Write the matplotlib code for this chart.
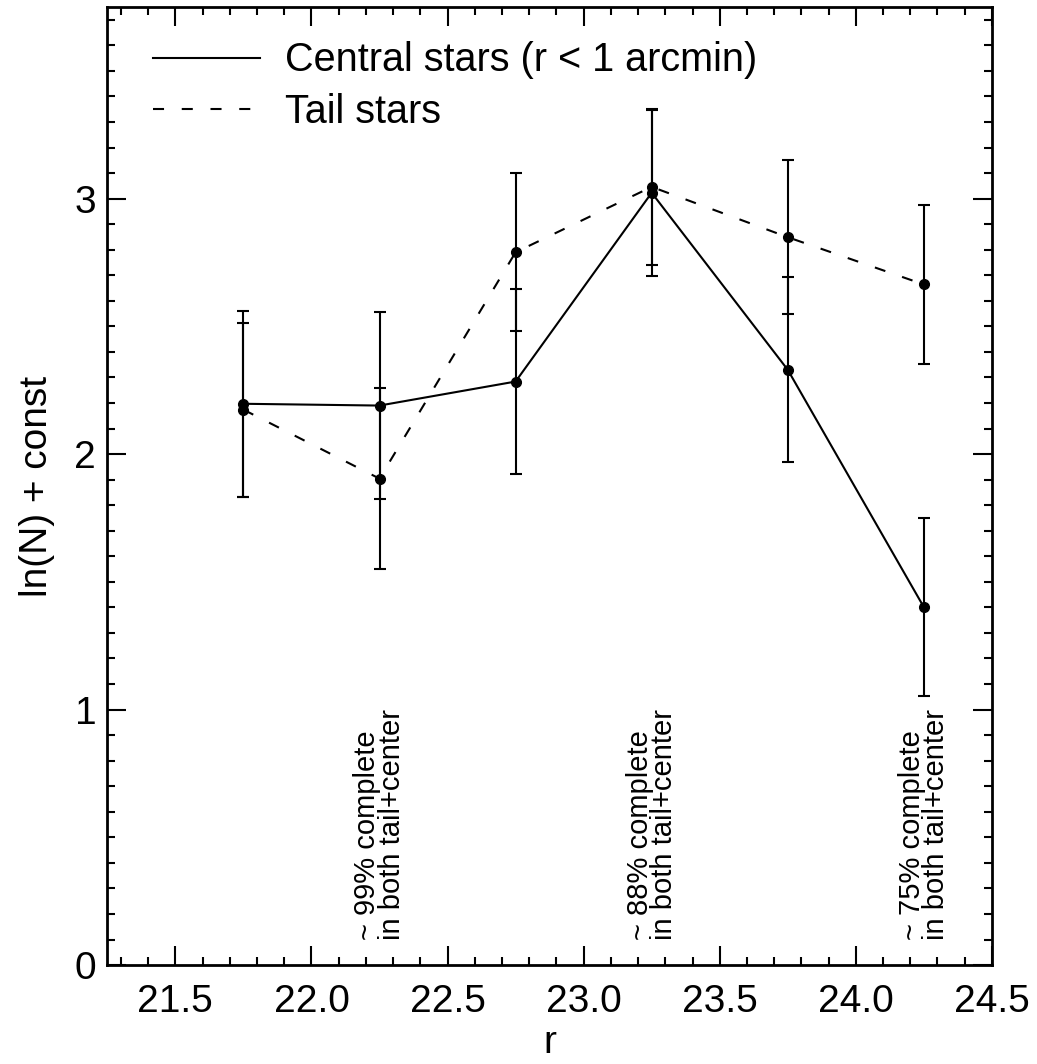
import numpy as np
import matplotlib
matplotlib.use("Agg")
import matplotlib.pyplot as plt
from matplotlib.lines import Line2D
from matplotlib.ticker import MultipleLocator, FormatStrFormatter

plt.rcParams['font.family'] = ['Liberation Sans', 'DejaVu Sans']

# magnitude bins
r_bins = [21.75, 22.25, 22.75, 23.25, 23.75, 24.25]

# central stars (r < 1 arcmin)
central_val = [2.197, 2.190, 2.284, 3.023, 2.330, 1.401]
central_err = [0.365, 0.365, 0.362, 0.325, 0.362, 0.348]

# tail stars
tail_val = [2.174, 1.904, 2.790, 3.046, 2.849, 2.664]
tail_err = [0.340, 0.355, 0.310, 0.305, 0.301, 0.312]

# completeness notes
note_x = [22.25, 23.25, 24.25]
note_text = ["~ 99% complete\nin both tail+center",
             "~ 88% complete\nin both tail+center",
             "~ 75% complete\nin both tail+center"]

fig = plt.figure(figsize=(10.37, 10.64), dpi=100)
ax = fig.add_axes([0.1035, 0.093, 0.853, 0.9004])

lw = 1.5
dash = (0, (5.3, 8.5))
ax.errorbar(r_bins, central_val, yerr=central_err, color='black', lw=lw,
            marker='o', ms=7, capsize=4.5, capthick=lw, elinewidth=lw)
ax.errorbar(r_bins, tail_val, yerr=tail_err, color='black', lw=lw,
            ls=dash, marker='o', ms=7, capsize=4.5, capthick=lw,
            elinewidth=lw)

for x, txt in zip(note_x, note_text):
    ax.text(x, 0.1, txt, rotation=90, ha='center', va='bottom',
            multialignment='left', fontsize=21, linespacing=0.82)

ax.set_xlim(21.25, 24.5)
ax.set_ylim(0, 3.75)
ax.xaxis.set_major_locator(MultipleLocator(0.5))
ax.xaxis.set_minor_locator(MultipleLocator(0.1))
ax.xaxis.set_major_formatter(FormatStrFormatter('%.1f'))
ax.yaxis.set_major_locator(MultipleLocator(1))
ax.yaxis.set_minor_locator(MultipleLocator(0.1))

ax.tick_params(which='both', direction='in', top=True, right=True,
               width=1.5, labelsize=28)
ax.tick_params(which='major', length=13.5)
ax.tick_params(which='minor', length=6)
ax.tick_params(axis='x', pad=14)
ax.tick_params(axis='y', pad=8)
for s in ax.spines.values():
    s.set_linewidth(2)

ax.set_xlabel('r', fontsize=28, labelpad=3)
ax.set_ylabel('ln(N) + const', fontsize=28, labelpad=14)

handles = [Line2D([], [], color='black', lw=lw),
           Line2D([], [], color='black', lw=lw, ls=dash)]
labels = ['Central stars (r < 1 arcmin)', 'Tail stars']
ax.legend(handles, labels, loc='upper left', frameon=False, fontsize=28.5,
          handlelength=2.7, handletextpad=0.65, labelspacing=0.35,
          bbox_to_anchor=(0.02, 0.993), borderaxespad=0.3)

fig.savefig('out.png', dpi=100)
